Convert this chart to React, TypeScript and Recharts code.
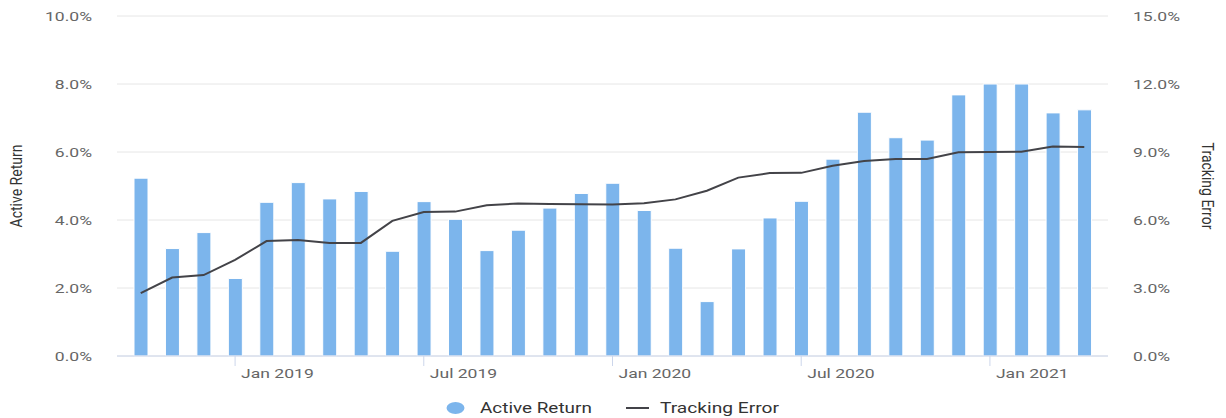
import React from 'react';
import { ComposedChart, Bar, Line, XAxis, YAxis, CartesianGrid, Legend } from 'recharts';

const months = [
  'Oct 2018', 'Nov 2018', 'Dec 2018',
  'Jan 2019', 'Feb 2019', 'Mar 2019', 'Apr 2019', 'May 2019', 'Jun 2019',
  'Jul 2019', 'Aug 2019', 'Sep 2019', 'Oct 2019', 'Nov 2019', 'Dec 2019',
  'Jan 2020', 'Feb 2020', 'Mar 2020', 'Apr 2020', 'May 2020', 'Jun 2020',
  'Jul 2020', 'Aug 2020', 'Sep 2020', 'Oct 2020', 'Nov 2020', 'Dec 2020',
  'Jan 2021', 'Feb 2021', 'Mar 2021', 'Apr 2021',
];

const activeReturn = [
  5.23, 3.16, 3.63,
  2.28, 4.52, 5.10, 4.62, 4.84, 3.08,
  4.54, 4.02, 3.10, 3.70, 4.35, 4.78,
  5.08, 4.28, 3.17, 1.60, 3.15, 4.06,
  4.55, 5.79, 7.17, 6.42, 6.35, 7.68,
  8.00, 8.00, 7.15, 7.24,
];

const trackingError = [
  2.77, 3.46, 3.57,
  4.24, 5.07, 5.12, 4.99, 4.99, 5.96,
  6.35, 6.37, 6.65, 6.73, 6.71, 6.69,
  6.68, 6.74, 6.91, 7.29, 7.87, 8.07,
  8.08, 8.39, 8.60, 8.69, 8.69, 8.99,
  9.00, 9.01, 9.24, 9.22,
];

const leftTicks = [0, 2, 4, 6, 8, 10];
const rightTicks = [0, 3, 6, 9, 12, 15];
const labelledMonths = ['Jan', 'Jul'];

const data = months.map((m, i) => ({ month: m, active: activeReturn[i], te: trackingError[i] }));

const FONT = 'Roboto, "Noto Sans", sans-serif';
const SX = 1.35;
const BAR_COLOR = '#7cb5ec';
const LINE_COLOR = '#434348';
const AXIS_COLOR = '#ccd6eb';
const LABEL_COLOR = '#666666';
const TITLE_COLOR = '#333333';

const fmt = (v: number) => `${v.toFixed(1)}%`;

const XTick = (props: any) => {
  const { x, y, payload } = props;
  const label: string = payload.value;
  if (!labelledMonths.includes(label.slice(0, 3))) return null;
  return (
    <g>
      <line x1={x} x2={x} y1={y} y2={y + 10} stroke={AXIS_COLOR} strokeWidth={1} />
      <text
        transform={`translate(${x + 6},${y + 17}) scale(${SX},1)`}
        x={0}
        y={0}
        dy="0.36em"
        textAnchor="start"
        fill={LABEL_COLOR}
        fontSize={13}
        fontFamily={FONT}
      >
        {label}
      </text>
    </g>
  );
};

const YTick = (props: any) => {
  const { x, y, payload, anchor } = props;
  return (
    <text
      transform={`translate(${x},${y}) scale(${SX},1)`}
      x={0}
      y={0}
      dy="0.36em"
      textAnchor={anchor}
      fill={LABEL_COLOR}
      fontSize={13}
      fontFamily={FONT}
    >
      {fmt(payload.value)}
    </text>
  );
};

const AxisTitle = (props: any) => {
  const { viewBox, value, side } = props;
  const vb = viewBox || {};
  const cx = side === 'left' ? vb.x + 16.5 : vb.x + 100;
  const cy = vb.y + vb.height / 2;
  const rot = side === 'left' ? -90 : 90;
  return (
    <text
      transform={`translate(${cx},${cy}) scale(1.12,1) rotate(${rot})`}
      x={0}
      y={0}
      dy="0.36em"
      textAnchor="middle"
      fill={TITLE_COLOR}
      fontSize={14}
      fontFamily={FONT}
    >
      {value}
    </text>
  );
};

const LegendContent = () => {
  const top = 390;
  const cy = 408 - top;
  return (
    <svg width={1226} height={28} style={{ display: 'block' }}>
      <ellipse cx={455.5} cy={cy} rx={9} ry={6} fill={BAR_COLOR} />
      <text
        transform={`translate(480,${cy}) scale(${SX},1)`}
        dy="0.36em"
        fill="#333333"
        fontSize={14}
        fontFamily={FONT}
      >
        Active Return
      </text>
      <line x1={626} x2={649} y1={cy} y2={cy} stroke={LINE_COLOR} strokeWidth={2} />
      <text
        transform={`translate(660,${cy}) scale(1.37,1)`}
        dy="0.36em"
        fill="#333333"
        fontSize={14}
        fontFamily={FONT}
      >
        Tracking Error
      </text>
    </svg>
  );
};

export default function App() {
  return (
    <div style={{ position: 'absolute', left: 0, top: 0, width: 1226, height: 418, background: '#fff' }}>
      <ComposedChart
        width={1226}
        height={418}
        data={data}
        margin={{ top: 16, right: 0, bottom: 0, left: 0 }}
      >
        <CartesianGrid vertical={false} stroke="#e6e6e6" yAxisId="left" />
        <XAxis
          dataKey="month"
          type="category"
          height={62}
          interval={0}
          padding={{ left: 8, right: 8 }}
          axisLine={{ stroke: AXIS_COLOR }}
          tickLine={false}
          tickSize={0}
          tickMargin={0}
          tick={<XTick />}
        />
        <YAxis
          yAxisId="left"
          orientation="left"
          width={117}
          domain={[0, 10]}
          ticks={leftTicks}
          axisLine={false}
          tickLine={false}
          tickSize={0}
          tickMargin={25}
          tick={<YTick anchor="end" />}
          label={<AxisTitle value="Active Return" side="left" />}
        />
        <YAxis
          yAxisId="right"
          orientation="right"
          width={118}
          domain={[0, 15]}
          ticks={rightTicks}
          axisLine={false}
          tickLine={false}
          tickSize={0}
          tickMargin={25}
          tick={<YTick anchor="start" />}
          label={<AxisTitle value="Tracking Error" side="right" />}
        />
        <Bar
          yAxisId="left"
          dataKey="active"
          name="Active Return"
          fill={BAR_COLOR}
          stroke="#ffffff"
          strokeWidth={1}
          barSize={14}
          isAnimationActive={false}
        />
        <Line
          yAxisId="right"
          dataKey="te"
          name="Tracking Error"
          type="linear"
          stroke={LINE_COLOR}
          strokeWidth={2}
          dot={false}
          activeDot={false}
          isAnimationActive={false}
        />
        <Legend
          verticalAlign="middle"
          align="center"
          layout="horizontal"
          wrapperStyle={{ left: 0, top: 390, width: 1226, height: 28 }}
          content={<LegendContent />}
        />
      </ComposedChart>
    </div>
  );
}
